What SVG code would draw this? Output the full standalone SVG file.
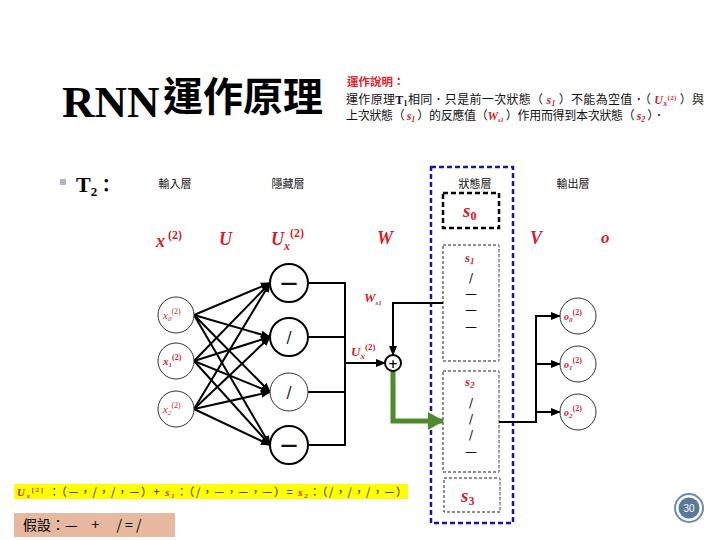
<svg xmlns="http://www.w3.org/2000/svg" width="720" height="540" viewBox="0 0 720 540">
<style>
.cjk{font-family:"Noto Sans CJK TC","Noto Sans CJK SC",sans-serif;}
.lay{font-family:"Noto Sans CJK TC",sans-serif;font-size:11px;fill:#111;text-anchor:middle;}
.m{font-family:"Liberation Serif",serif;font-weight:bold;font-style:italic;fill:#d01f2c;}
.ms{font-family:"Liberation Serif",serif;font-style:italic;fill:#d01f2c;}
.up{font-style:normal;}
.c{stroke:#000;stroke-width:2;fill:#fff;}
.ci{stroke:#333;stroke-width:1;fill:#fff;}
.w{stroke:#000;stroke-width:2;fill:none;}
.sym{font-family:"DejaVu Sans",sans-serif;fill:#111;text-anchor:middle;}
</style>
<defs>
<marker id="ah" markerUnits="userSpaceOnUse" markerWidth="10" markerHeight="10" refX="9" refY="5" orient="auto"><path d="M0,1 L10,5 L0,9 Z" fill="#000"/></marker>
<marker id="ag" markerUnits="userSpaceOnUse" markerWidth="16" markerHeight="18" refX="15" refY="9" orient="auto"><path d="M0,0 L16,9 L0,18 Z" fill="#4e8a30"/></marker>
</defs>
<rect width="720" height="540" fill="#fff"/>

<g id="title">
<text x="62" y="117" font-family="Liberation Serif,serif" font-weight="bold" font-size="45" fill="#000">RNN</text>
<text x="163" y="111" class="cjk" font-weight="bold" font-size="40" fill="#000">運作原理</text>
</g>

<g id="description" class="cjk" font-size="12">
<text x="347" y="86" fill="#e0242c" font-weight="bold" font-size="11.5">運作說明：</text>
<text x="346" y="104" fill="#111" textLength="358" lengthAdjust="spacing">運作原理<tspan font-family="Liberation Serif,serif" font-weight="bold">T<tspan font-size="8" dy="1.5">1</tspan></tspan><tspan dy="-1.5">相同．只是前一次狀態（ </tspan><tspan class="m">s<tspan font-size="8" dy="1.5">1</tspan></tspan><tspan dy="-1.5"> ）不能為空值．（ </tspan><tspan class="m">U<tspan font-size="8" dy="1.5">x</tspan><tspan font-size="7" class="up" dy="-5.5">(2)</tspan></tspan><tspan dy="4"> ）與</tspan></text>
<text x="346" y="120" fill="#111" textLength="319" lengthAdjust="spacing">上次狀態（ <tspan class="m">s<tspan font-size="8" dy="1.5">1</tspan></tspan><tspan dy="-1.5"> ）的反應值（</tspan><tspan class="m">W<tspan font-size="7" dy="1.5">s1</tspan></tspan><tspan dy="-1.5"> ）作用而得到本次狀態（ </tspan><tspan class="m">s<tspan font-size="8" dy="1.5">2</tspan></tspan><tspan dy="-1.5"> ）．</tspan></text>
</g>

<g id="t2">
<rect x="60" y="179" width="6" height="6" fill="#a8b8c8"/>
<text x="76" y="192" font-family="Liberation Serif,serif" font-weight="bold" font-size="22" fill="#000">T<tspan font-size="13" dy="4">2</tspan><tspan dy="-4" class="cjk" font-size="18">：</tspan></text>
</g>

<g id="layer-titles">
<text class="lay" x="175" y="188">輸入層</text>
<text class="lay" x="288" y="188">隱藏層</text>
<text class="lay" x="475" y="188">狀態層</text>
<text class="lay" x="573" y="188">輸出層</text>
</g>

<g id="math-labels">
<text class="m" x="156" y="247" font-size="18">x<tspan font-size="12" class="up" dx="3" dy="-8">(2)</tspan></text>
<text class="m" x="219" y="245" font-size="18">U</text>
<text class="m" x="271" y="245" font-size="18">U<tspan font-size="12" dy="5">x</tspan><tspan font-size="12" class="up" dy="-13">(2)</tspan></text>
<text class="m" x="377" y="244" font-size="18">W</text>
<text class="m" x="530" y="244" font-size="18">V</text>
<text class="m" x="601" y="243" font-size="17">o</text>
</g>

<g id="state-layer">
<rect x="431" y="167" width="82" height="356" fill="none" stroke="#1616a0" stroke-width="2.5" stroke-dasharray="5,3"/>
</g>

<g id="s0">
<rect x="443" y="193" width="56" height="35" fill="none" stroke="#000" stroke-width="2.5" stroke-dasharray="5,3"/>
<text class="m" x="463" y="217" font-size="19">s<tspan font-size="12" class="up" dy="3">0</tspan></text>
</g>

<g id="s1">
<rect x="443" y="245" width="56" height="116" fill="none" stroke="#222" stroke-width="1" stroke-dasharray="3,2"/>
<line x1="499" y1="245" x2="499" y2="361" stroke="#bbb" stroke-width="1.2" stroke-dasharray="3,2"/>
<text class="m" x="465" y="262" font-size="13">s<tspan font-size="9" dy="2">1</tspan></text>
<text class="sym" x="471" y="282" font-size="12">/</text>
<text class="sym" x="471" y="298" font-size="12">—</text>
<text class="sym" x="471" y="314" font-size="12">—</text>
<text class="sym" x="471" y="331" font-size="12">—</text>
</g>

<g id="s2">
<rect x="443" y="371" width="56" height="101" fill="none" stroke="#222" stroke-width="1" stroke-dasharray="3,2"/>
<line x1="499" y1="371" x2="499" y2="472" stroke="#bbb" stroke-width="1.2" stroke-dasharray="3,2"/>
<text class="m" x="465" y="386" font-size="13">s<tspan font-size="9" dy="2">2</tspan></text>
<text class="sym" x="471" y="407" font-size="12">/</text>
<text class="sym" x="471" y="423" font-size="12">/</text>
<text class="sym" x="471" y="439" font-size="12">/</text>
<text class="sym" x="471" y="456" font-size="12">—</text>
</g>

<g id="s3">
<rect x="444" y="478" width="56" height="34" fill="none" stroke="#222" stroke-width="1" stroke-dasharray="3,2"/>
<line x1="500" y1="478" x2="500" y2="512" stroke="#bbb" stroke-width="1.2" stroke-dasharray="3,2"/>
<text class="m" x="461" y="502" font-size="19">s<tspan font-size="12" class="up" dy="3">3</tspan></text>
</g>

<g id="connectors">
<g class="w" marker-end="url(#ah)">
<line x1="194" y1="315" x2="270" y2="283"/>
<line x1="194" y1="315" x2="270" y2="337"/>
<line x1="194" y1="315" x2="270" y2="392"/>
<line x1="194" y1="315" x2="270" y2="445"/>
<line x1="194" y1="361" x2="270" y2="283"/>
<line x1="194" y1="361" x2="270" y2="337"/>
<line x1="194" y1="361" x2="270" y2="392"/>
<line x1="194" y1="361" x2="270" y2="445"/>
<line x1="194" y1="409" x2="270" y2="283"/>
<line x1="194" y1="409" x2="270" y2="337"/>
<line x1="194" y1="409" x2="270" y2="392"/>
<line x1="194" y1="409" x2="270" y2="445"/>
</g>
<path class="w" d="M308,283 H345 M308,337 H345 M308,392 H345 M308,445 H345 M345,282 V446"/>
<line class="w" x1="345" y1="363" x2="385" y2="363" marker-end="url(#ah)"/>
<path class="w" d="M443,303 H393 V355" marker-end="url(#ah)"/>
<path d="M393,371 V421 H443" fill="none" stroke="#4e8a30" stroke-width="5" marker-end="url(#ag)"/>
<path class="w" d="M499,422 H536 M536,315 V423"/>
<line class="w" x1="536" y1="316" x2="560" y2="316" marker-end="url(#ah)"/>
<line class="w" x1="536" y1="364" x2="560" y2="364" marker-end="url(#ah)"/>
<line class="w" x1="536" y1="412" x2="560" y2="412" marker-end="url(#ah)"/>
</g>

<g id="x0"><circle class="ci" cx="176" cy="315" r="18"/><text class="ms" x="163" y="319" font-size="11">x<tspan font-size="7" dy="2">0</tspan><tspan font-size="8" class="up" dy="-7">(2)</tspan></text></g>
<g id="x1"><circle class="ci" cx="176" cy="361" r="18"/><text class="ms" x="163" y="365" font-size="11" font-weight="bold">x<tspan font-size="7" dy="2">1</tspan><tspan font-size="8" class="up" dy="-7">(2)</tspan></text></g>
<g id="x2"><circle class="ci" cx="176" cy="409" r="18"/><text class="ms" x="163" y="413" font-size="11">x<tspan font-size="7" dy="2">2</tspan><tspan font-size="8" class="up" dy="-7">(2)</tspan></text></g>

<g id="h0"><circle class="c" cx="289" cy="283" r="19"/><text class="sym" x="289" y="289" font-size="17" font-weight="bold">—</text></g>
<g id="h1"><circle class="c" cx="289" cy="337" r="19"/><text class="sym" x="289" y="343" font-size="15">/</text></g>
<g id="h2"><circle class="ci" cx="289" cy="392" r="19"/><text class="sym" x="289" y="398" font-size="15">/</text></g>
<g id="h3"><circle class="c" cx="289" cy="445" r="19"/><text class="sym" x="289" y="451" font-size="17" font-weight="bold">—</text></g>

<g id="sum"><circle class="c" cx="393" cy="363" r="8"/><text x="393" y="367.5" font-family="DejaVu Sans,sans-serif" font-size="12" font-weight="bold" text-anchor="middle" fill="#000">+</text></g>
<g id="edge-labels">
<text class="m" x="364" y="302" font-size="13">W<tspan font-size="7" dy="3">s1</tspan></text>
<text class="m" x="351" y="356" font-size="13">U<tspan font-size="9" dy="3">x</tspan><tspan font-size="9" class="up" dy="-9">(2)</tspan></text>
</g>

<g id="o0"><circle class="ci" cx="578" cy="316" r="18"/><text class="ms" x="564" y="320" font-size="10" font-weight="bold">o<tspan font-size="7" dy="2">0</tspan><tspan font-size="8" class="up" dy="-7">(2)</tspan></text></g>
<g id="o1"><circle class="ci" cx="578" cy="364" r="18"/><text class="ms" x="564" y="368" font-size="10" font-weight="bold">o<tspan font-size="7" dy="2">1</tspan><tspan font-size="8" class="up" dy="-7">(2)</tspan></text></g>
<g id="o2"><circle class="ci" cx="578" cy="412" r="18"/><text class="ms" x="564" y="416" font-size="10" font-weight="bold">o<tspan font-size="7" dy="2">2</tspan><tspan font-size="8" class="up" dy="-7">(2)</tspan></text></g>

<g id="equation">
<rect x="14" y="484" width="394" height="15" fill="#ffff00"/>
<text x="17" y="496" class="cjk" font-size="11" fill="#222" textLength="390" lengthAdjust="spacing"><tspan class="m" fill="#c8601a">U<tspan font-size="7" dy="2">x</tspan><tspan font-size="7" class="up" dy="-6">[2]</tspan></tspan><tspan dy="4"> ：（—，/，/，—）+ </tspan><tspan class="m" fill="#e06a10">s<tspan font-size="7" dy="2">1</tspan></tspan><tspan dy="-2">：（/，—，—，—）= </tspan><tspan class="m" fill="#e06a10">s<tspan font-size="7" dy="2">2</tspan></tspan><tspan dy="-2">：（/，/，/，—）</tspan></text>
</g>

<g id="assumption">
<rect x="14" y="513" width="161" height="24" fill="#e6b8a0"/>
<text x="23" y="530" class="cjk" font-size="14" fill="#000">假設：—　+　 / = /</text>
</g>

<g id="page-number">
<circle cx="689" cy="508" r="14" fill="#fff" stroke="#6f8aa4" stroke-width="2"/>
<circle cx="689" cy="508" r="10.5" fill="#5a7898"/>
<text x="689" y="512" font-family="Liberation Sans,sans-serif" font-size="10" fill="#fff" text-anchor="middle">30</text>
</g>
</svg>
